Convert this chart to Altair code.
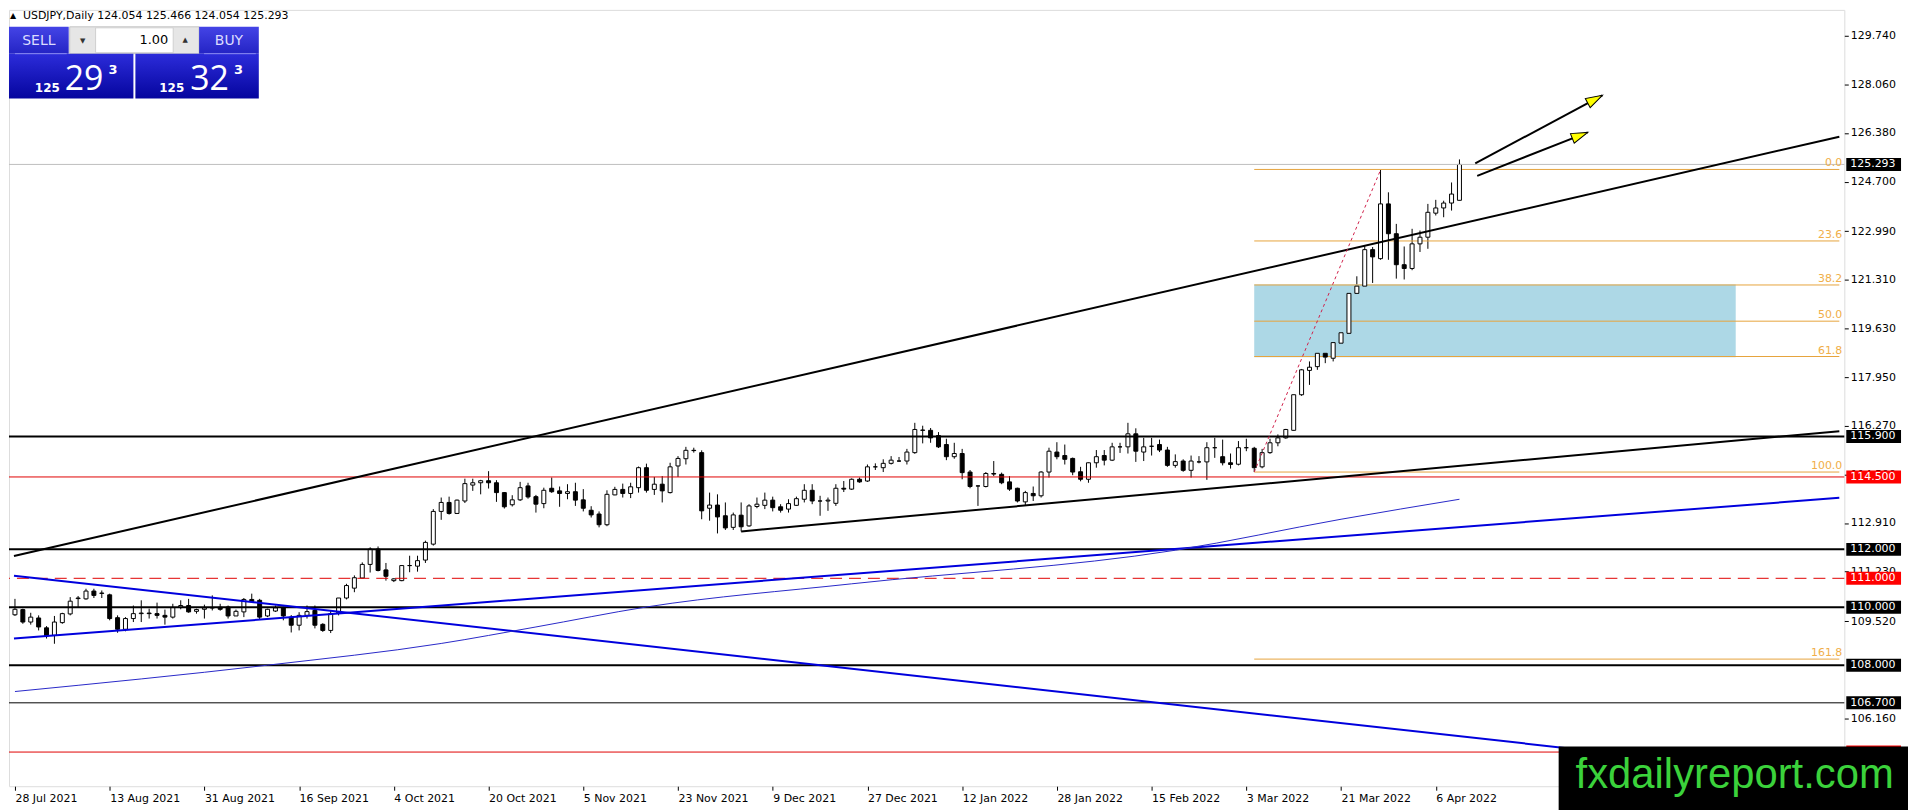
import math
import json
import altair as alt
import pandas as pd

# ---------------- values ----------------
opens = [109.74, 109.92, 109.49, 109.63, 109.29, 109.03, 109.47, 109.77, 110.30, 110.29,
         110.56, 110.49, 110.43, 109.64, 109.24, 109.61, 109.78, 109.80, 109.78, 109.72,
         109.66, 109.99, 110.06, 109.86, 109.93, 109.98, 110.00, 110.01, 109.70, 109.84,
         110.27, 110.24, 109.70, 109.87, 109.98, 109.66, 109.38, 109.72, 109.89, 109.41,
         109.20, 109.81, 110.32, 110.66, 111.01, 111.48, 112.01, 111.29, 110.92, 110.92,
         111.44, 111.42, 111.63, 112.18, 113.31, 113.62, 113.24, 113.67, 114.22, 114.30,
         114.37, 114.30, 113.96, 113.54, 113.71, 114.19, 113.82, 113.58, 114.11, 114.02,
         113.93, 113.99, 113.71, 113.35, 113.22, 112.85, 113.88, 114.07, 113.93, 114.13,
         114.82, 114.07, 114.25, 113.96, 114.88, 115.13, 115.42, 115.34, 113.42, 113.53,
         113.16, 112.76, 113.18, 112.81, 113.48, 113.52, 113.70, 113.47, 113.39, 113.52,
         113.73, 114.04, 113.67, 113.67, 113.59, 114.11, 114.08, 114.42, 114.36, 114.85,
         114.82, 114.97, 115.05, 115.05, 115.34, 116.12, 116.11, 115.93, 115.62, 115.20,
         115.31, 114.67, 114.19, 114.17, 114.62, 114.59, 114.33, 114.11, 113.64, 113.93,
         113.85, 114.67, 115.36, 115.24, 115.14, 114.68, 114.42, 114.99, 115.24, 115.08,
         115.54, 115.54, 115.99, 115.36, 115.56, 115.62, 115.43, 114.90, 115.05, 114.73,
         115.02, 115.02, 115.51, 115.20, 114.99, 114.94, 115.51, 115.49, 114.85, 115.34,
         115.68, 115.85, 116.11, 117.34, 118.18, 118.31, 118.77, 118.60, 119.12, 119.46,
         120.84, 121.09, 122.35, 122.04, 123.93, 122.90, 121.83, 121.70, 122.55, 122.78,
         123.61, 123.79, 123.96, 124.054]
highs = [110.29, 109.95, 109.81, 109.72, 109.35, 109.70, 109.81, 110.35, 110.39, 110.64,
         110.64, 110.58, 110.47, 109.72, 109.66, 110.06, 110.24, 109.95, 110.16, 109.92,
         110.12, 110.24, 110.29, 109.95, 110.09, 110.41, 110.12, 110.06, 109.92, 110.32,
         110.47, 110.29, 109.95, 110.06, 110.02, 109.73, 109.83, 110.06, 110.06, 109.45,
         109.89, 110.32, 110.81, 111.10, 111.55, 112.07, 112.10, 111.53, 111.00, 111.46,
         111.78, 111.78, 112.30, 113.39, 113.79, 113.82, 113.72, 114.44, 114.44, 114.40,
         114.70, 114.39, 113.98, 113.87, 114.33, 114.30, 113.88, 114.13, 114.48, 114.17,
         114.25, 114.30, 114.08, 113.49, 113.31, 114.04, 114.16, 114.27, 114.30, 114.86,
         114.96, 114.50, 114.53, 114.99, 115.22, 115.54, 115.51, 115.42, 113.96, 113.90,
         113.62, 113.27, 113.62, 113.56, 113.79, 113.96, 113.82, 113.56, 113.73, 113.82,
         114.25, 114.25, 113.85, 113.79, 114.25, 114.36, 114.45, 114.48, 114.93, 114.97,
         115.11, 115.22, 115.19, 115.47, 116.37, 116.27, 116.19, 116.05, 115.82, 115.68,
         115.47, 114.74, 114.21, 114.67, 115.05, 114.65, 114.53, 114.13, 114.02, 114.17,
         114.70, 115.51, 115.70, 115.62, 115.17, 114.85, 115.00, 115.43, 115.43, 115.68,
         115.68, 116.37, 116.18, 115.85, 115.85, 115.79, 115.54, 115.28, 115.11, 115.24,
         115.22, 115.70, 115.85, 115.79, 115.31, 115.74, 115.82, 115.54, 115.47, 115.82,
         115.97, 116.16, 117.34, 118.23, 118.49, 119.14, 119.03, 119.44, 119.52, 120.86,
         121.43, 122.50, 122.44, 125.10, 124.33, 123.24, 122.46, 123.07, 123.01, 123.93,
         124.07, 124.04, 124.67, 125.466]
lows = [109.70, 109.43, 109.40, 109.20, 108.92, 108.74, 109.43, 109.72, 109.98, 110.26,
        110.32, 110.32, 109.55, 109.12, 109.17, 109.49, 109.49, 109.61, 109.61, 109.40,
        109.61, 109.93, 109.81, 109.78, 109.61, 109.89, 109.88, 109.61, 109.70, 109.66,
        110.18, 109.58, 109.66, 109.84, 109.55, 109.13, 109.20, 109.61, 109.27, 109.15,
        109.11, 109.72, 110.27, 110.52, 111.00, 111.20, 111.24, 110.92, 110.87, 110.90,
        111.21, 111.23, 111.53, 112.13, 113.02, 113.20, 113.22, 113.60, 114.02, 113.90,
        114.10, 113.64, 113.41, 113.48, 113.67, 113.75, 113.27, 113.42, 113.95, 113.47,
        113.73, 113.50, 113.31, 113.10, 112.76, 112.80, 113.87, 113.79, 113.77, 113.96,
        113.96, 113.88, 113.62, 113.93, 114.50, 114.93, 115.34, 113.04, 112.99, 112.55,
        112.67, 112.67, 112.62, 112.78, 113.42, 113.39, 113.31, 113.27, 113.27, 113.50,
        113.62, 113.56, 113.16, 113.33, 113.50, 113.98, 114.05, 114.30, 114.33, 114.74,
        114.67, 114.93, 115.02, 114.93, 115.30, 115.66, 115.68, 115.50, 115.08, 115.13,
        114.42, 114.11, 113.50, 114.14, 114.53, 114.25, 114.02, 113.62, 113.50, 113.67,
        113.79, 114.48, 115.11, 114.93, 114.56, 114.35, 114.30, 114.82, 114.90, 115.05,
        115.33, 115.31, 115.02, 115.05, 115.24, 115.36, 114.85, 114.82, 114.68, 114.48,
        114.97, 114.40, 115.16, 114.90, 114.79, 114.90, 115.39, 114.67, 114.80, 115.30,
        115.56, 115.82, 116.10, 117.30, 117.68, 118.20, 118.43, 118.49, 119.10, 119.43,
        120.78, 120.97, 121.20, 122.00, 122.00, 121.35, 121.32, 121.64, 122.27, 122.38,
        123.53, 123.47, 123.70, 124.054]
closes = [109.93, 109.49, 109.66, 109.32, 109.01, 109.49, 109.78, 110.21, 110.32, 110.56,
          110.41, 110.48, 109.61, 109.24, 109.61, 109.78, 109.80, 109.78, 109.72, 109.66,
          109.99, 110.06, 109.84, 109.92, 109.98, 109.98, 109.93, 109.70, 109.86, 110.27,
          110.20, 109.66, 109.93, 109.98, 109.70, 109.38, 109.72, 109.85, 109.38, 109.20,
          109.78, 110.32, 110.75, 111.02, 111.48, 112.01, 111.27, 111.07, 110.98, 111.44,
          111.44, 111.61, 112.24, 113.31, 113.62, 113.24, 113.70, 114.27, 114.30, 114.37,
          114.30, 113.96, 113.47, 113.71, 114.13, 113.81, 113.56, 114.04, 113.99, 113.93,
          113.99, 113.70, 113.42, 113.19, 112.85, 113.90, 114.07, 113.93, 114.16, 114.82,
          114.04, 114.25, 114.02, 114.85, 115.14, 115.42, 115.41, 113.33, 113.53, 113.12,
          112.74, 113.19, 112.78, 113.50, 113.56, 113.70, 113.44, 113.35, 113.58, 113.75,
          114.04, 113.67, 113.67, 113.70, 114.11, 114.08, 114.42, 114.33, 114.85, 114.85,
          114.97, 115.08, 115.05, 115.36, 116.14, 116.11, 115.85, 115.54, 115.20, 115.31,
          114.65, 114.17, 114.19, 114.62, 114.60, 114.30, 114.08, 113.67, 113.96, 113.85,
          114.67, 115.39, 115.20, 115.11, 114.67, 114.42, 114.99, 115.20, 115.08, 115.54,
          115.54, 115.99, 115.39, 115.54, 115.56, 115.43, 114.90, 115.03, 114.73, 115.05,
          115.02, 115.51, 115.51, 114.99, 114.93, 115.51, 115.51, 114.82, 115.34, 115.68,
          115.85, 116.14, 117.34, 118.20, 118.29, 118.77, 118.64, 119.14, 119.48, 120.84,
          121.09, 122.35, 122.10, 123.93, 122.90, 121.83, 121.70, 122.55, 122.78, 123.64,
          123.79, 123.96, 124.27, 125.293]
bar_numbers = list(range(len(opens)))

axis_tick_bars = [0, 12, 24, 36, 48, 60, 72, 84, 96, 108, 120, 132, 144, 156, 168, 180]
axis_tick_labels = ["28 Jul 2021", "13 Aug 2021", "31 Aug 2021", "16 Sep 2021", "4 Oct 2021",
                    "20 Oct 2021", "5 Nov 2021", "23 Nov 2021", "9 Dec 2021", "27 Dec 2021",
                    "12 Jan 2022", "28 Jan 2022", "15 Feb 2022", "3 Mar 2022", "21 Mar 2022",
                    "6 Apr 2022"]
price_ticks = [129.74, 128.06, 126.38, 124.70, 122.99, 121.31, 119.63, 117.95, 116.27,
               114.59, 112.91, 111.23, 109.52, 106.16]

thick_black_levels = [115.90, 112.00, 110.00, 108.00]
thin_black_levels = [106.70]
red_levels = [114.50, 105.00]
red_dashed_levels = [111.00]
last_price = 125.293
black_tag_prices = [125.293, 115.90, 112.00, 110.00, 108.00, 106.70]
red_tag_prices = [114.50, 111.00]
hidden_red_tag_prices = [105.00]

fib_names = ["0.0", "23.6", "38.2", "50.0", "61.8", "100.0", "161.8"]
fib_prices = [125.12, 122.65, 121.13, 119.88, 118.66, 114.67, 108.21]
fib_start_bar = 157
fib_anchor_bars = [157, 173]
fib_anchor_prices = [114.67, 125.10]

zone_bars = [157, 218]
zone_prices = [118.63, 121.15]

black_trend_bars = [[-0.125, 231.125], [92, 231.125]]
black_trend_prices = [[111.77, 126.25], [112.62, 116.08]]
blue_trend_bars = [[-0.125, 231.125], [-0.125, 231.125]]
blue_trend_prices = [[108.92, 113.78], [111.09, 104.09]]

ma_bars = [0, 32, 54, 66, 80, 106, 147, 168, 183]
ma_prices = [107.09, 108.00, 108.75, 109.32, 110.01, 110.81, 111.97, 113.04, 113.73]

arrow_start_bars = [185.0, 185.25]
arrow_start_prices = [125.33, 124.90]
arrow_end_bars = [201.1, 199.25]
arrow_end_prices = [127.68, 126.40]

title_text = "USDJPY,Daily  124.054 125.466 124.054 125.293"

# ---------------- layout ----------------
W, H = 1844, 780
X0, X1 = -0.125, 231.125
Y0, Y1 = 103.82, 130.63
FONT = "DejaVu Sans"
FIB = "#E6A33C"
xs = alt.Scale(domain=[X0, X1], nice=False, zero=False)
ys = alt.Scale(domain=[Y0, Y1], nice=False, zero=False)
ppb = W / (X1 - X0)
ppp = H / (Y1 - Y0)

x_axis = alt.Axis(values=axis_tick_bars,
                  labelExpr=f"{json.dumps(axis_tick_labels)}[round(datum.value / 12)]",
                  title=None, grid=False, domain=False, tickSize=4, tickColor="black",
                  labelAlign="left", labelBaseline="top", labelPadding=2,
                  labelFont=FONT, labelFontSize=11, labelColor="black",
                  labelOverlap=False, labelFlush=False)
y_axis = alt.Axis(orient="right", values=price_ticks, format=".3f", title=None,
                  grid=False, domain=False, tickSize=4, tickColor="black",
                  labelPadding=2, labelFont=FONT, labelFontSize=11, labelColor="black",
                  labelOverlap=False, labelFlush=False)


def X(field):
    return alt.X(field, type="quantitative", scale=xs, axis=x_axis)


def Y(field):
    return alt.Y(field, type="quantitative", scale=ys, axis=y_axis)


candles = pd.DataFrame({"bar": bar_numbers, "open": opens, "high": highs,
                        "low": lows, "close": closes})
candles["top"] = candles[["open", "close"]].max(axis=1)
candles["bottom"] = candles[["open", "close"]].min(axis=1)
candles["dir"] = ["up" if c > o else ("down" if c < o else "flat")
                  for o, c in zip(opens, closes)]

wicks = alt.Chart(candles).mark_rule(color="black", strokeWidth=1).encode(
    x=X("bar"), y=Y("low"), y2="high:Q")
bodies = alt.Chart(candles).mark_bar(size=4, stroke="black", strokeWidth=1).encode(
    x=X("bar"), y=Y("bottom"), y2="top:Q",
    fill=alt.Fill("dir:N", scale=alt.Scale(domain=["up", "down", "flat"],
                                           range=["white", "black", "black"]), legend=None))

zone = alt.Chart(pd.DataFrame({"b0": [zone_bars[0]], "b1": [zone_bars[1]],
                               "p0": [zone_prices[0]], "p1": [zone_prices[1]]})
                 ).mark_rect(color="#ADD8E6").encode(x=X("b0"), x2="b1:Q", y=Y("p0"), y2="p1:Q")

fib_df = pd.DataFrame({"name": fib_names, "price": fib_prices,
                       "b0": [fib_start_bar] * len(fib_names), "b1": [X1] * len(fib_names)})
fib_lines = alt.Chart(fib_df).mark_rule(color=FIB, strokeWidth=1).encode(
    x=X("b0"), x2="b1:Q", y=Y("price"))
fib_text = alt.Chart(fib_df).mark_text(align="right", baseline="bottom", dy=-1, font=FONT,
                                       fontSize=11, color="#F0AE48").encode(
    x=alt.value(W - 2), y=Y("price"), text="name:N")
fib_trend = alt.Chart(pd.DataFrame({"bar": fib_anchor_bars, "price": fib_anchor_prices})
                      ).mark_line(color="#D0204A", strokeWidth=1, strokeDash=[3, 3]).encode(
    x=X("bar"), y=Y("price"))


def level_layer(levels, color, width, dash=None):
    kw = {"color": color, "strokeWidth": width}
    if dash:
        kw["strokeDash"] = dash
    return alt.Chart(pd.DataFrame({"price": levels})).mark_rule(**kw).encode(y=Y("price"))


levels = [
    level_layer([last_price], "#BDBDBD", 1),
    level_layer(thick_black_levels, "black", 2),
    level_layer(thin_black_levels, "black", 1),
    level_layer(red_levels, "#E00000", 1),
    level_layer(red_dashed_levels, "#E00000", 1, [12, 7]),
]


def trend_layer(bar_pairs, price_pairs, color, width):
    rows = []
    for i, (bp, pp) in enumerate(zip(bar_pairs, price_pairs)):
        for b, p in zip(bp, pp):
            rows.append({"line": i, "bar": b, "price": p})
    return alt.Chart(pd.DataFrame(rows)).mark_line(color=color, strokeWidth=width, clip=True).encode(
        x=X("bar"), y=Y("price"), detail="line:N")


trends = [
    trend_layer(blue_trend_bars, blue_trend_prices, "#0000DD", 2),
    trend_layer(black_trend_bars, black_trend_prices, "black", 2),
]
ma_line = alt.Chart(pd.DataFrame({"bar": ma_bars, "price": ma_prices})).mark_line(
    color="#2828C8", strokeWidth=1, interpolate="monotone").encode(x=X("bar"), y=Y("price"))

# arrows
shaft_rows, head_rows = [], []
for i, (sb, sp, eb, ep) in enumerate(zip(arrow_start_bars, arrow_start_prices,
                                          arrow_end_bars, arrow_end_prices)):
    shaft_rows += [{"a": i, "bar": sb, "price": sp}, {"a": i, "bar": eb, "price": ep}]
    dx = (eb - sb) * ppb
    dy = -(ep - sp) * ppp
    L = math.hypot(dx, dy)
    back = 9.0
    head_rows.append({"bar": eb - back * dx / L / ppb,
                      "price": ep + back * dy / L / ppp,
                      "angle": math.degrees(math.atan2(dx, -dy))})
shafts = alt.Chart(pd.DataFrame(shaft_rows)).mark_line(color="black", strokeWidth=2).encode(
    x=X("bar"), y=Y("price"), detail="a:N")
heads = alt.Chart(pd.DataFrame(head_rows)).mark_point(
    shape="M0,-1L0.58,0.85L-0.58,0.85Z", filled=True, fill="#FFFF00", stroke="black",
    strokeWidth=1, size=324, opacity=1).encode(
    x=X("bar"), y=Y("price"), angle=alt.Angle("angle:Q", scale=None))

# price tags on the right axis
half = 6.5 / ppp


def tag_layer(prices, bg, with_text=True):
    df = pd.DataFrame({"price": prices})
    df["lo"] = df["price"] - half
    df["hi"] = df["price"] + half
    df["label"] = [f"{p:.3f}" for p in prices]
    box = alt.Chart(df).mark_rect(color=bg).encode(
        x=alt.value(W + 2), x2=alt.value(W + 57), y=Y("lo"), y2="hi:Q")
    if not with_text:
        return [box]
    txt = alt.Chart(df).mark_text(align="left", baseline="middle", font=FONT, fontSize=11,
                                  color="white").encode(
        x=alt.value(W + 6), y=Y("price"), text="label:N")
    return [box, txt]


tags = (tag_layer(black_tag_prices, "black") + tag_layer(red_tag_prices, "#FF0000")
        + tag_layer(hidden_red_tag_prices, "#FF0000", with_text=False))


# ---------------- decorations (pixel placed) ----------------
def px_rect(x, y, x2, y2, fill, stroke=None):
    kw = {"fill": fill}
    if stroke:
        kw["stroke"] = stroke
        kw["strokeWidth"] = 1
    return alt.Chart(pd.DataFrame({"a": [0]})).mark_rect(**kw).encode(
        x=alt.value(x), x2=alt.value(x2), y=alt.value(y), y2=alt.value(y2))


def px_text(text, x, y, size, color, align="left", baseline="middle", font=FONT,
            weight="normal"):
    return alt.Chart(pd.DataFrame({"t": [text]})).mark_text(
        align=align, baseline=baseline, font=font, fontSize=size, color=color,
        fontWeight=weight).encode(x=alt.value(x), y=alt.value(y), text="t:N")


def grad(c1, c2):
    return alt.Gradient(gradient="linear", x1=0, y1=0, x2=0, y2=1,
                        stops=[alt.GradientStop(color=c1, offset=0),
                               alt.GradientStop(color=c2, offset=1)])


btn = grad("#4444E6", "#2424C4")
big = grad("#2C2CDA", "#05059E")
panel = [
    px_rect(0, 17, 60, 44, btn),
    px_rect(61, 17, 191, 44, "#E6E6E6", "#C4C4C4"),
    px_rect(87, 18, 165, 43, "white", "#D0D0D0"),
    px_rect(191, 17, 251, 44, btn),
    px_rect(0, 44, 125, 89, big),
    px_rect(127, 44, 251, 89, big),
    alt.Chart(pd.DataFrame({"a": [0]})).mark_rule(color="#8A8AF2").encode(
        x=alt.value(6), x2=alt.value(58), y=alt.value(44)),
    alt.Chart(pd.DataFrame({"a": [0]})).mark_rule(color="#8A8AF2").encode(
        x=alt.value(196), x2=alt.value(248), y=alt.value(44)),
    px_text("SELL", 30, 31, 14, "#DCDCFF", align="center"),
    px_text("BUY", 221, 31, 14, "#DCDCFF", align="center"),
    px_text("▼", 74, 31, 7, "#333333", align="center"),
    px_text("▲", 177, 30, 7, "#333333", align="center"),
    px_text("1.00", 160, 30, 13, "black", align="right"),
    px_text("125", 26, 82, 12, "white", baseline="alphabetic", weight="bold"),
    px_text("29", 56, 80, 34, "white", baseline="alphabetic", font="Open Sans"),
    px_text("3", 100, 64, 13, "white", baseline="alphabetic", weight="bold"),
    px_text("125", 151, 82, 12, "white", baseline="alphabetic", weight="bold"),
    px_text("32", 182, 80, 34, "white", baseline="alphabetic", font="Open Sans"),
    px_text("3", 226, 64, 13, "white", baseline="alphabetic", weight="bold"),
]
title = [
    px_text("▲", 1, 6, 8, "black"),
    px_text(title_text, 14, 6, 11, "black"),
]
watermark = [
    px_rect(1557, 740, 1908, 804, "black"),
    px_text("fxdailyreport.com", 1574, 782, 42, "#3BD23B", baseline="alphabetic",
            font="Liberation Sans"),
]

layers = ([wicks, zone, fib_lines, bodies] + levels + trends + [ma_line, fib_trend, fib_text]
          + [shafts, heads] + tags + panel + title + watermark)

chart = alt.layer(*layers).properties(width=W, height=H, padding=0).configure_view(
    stroke="black", strokeWidth=1).configure(background="white")

chart.save("out.html", embed_options={"renderer": "svg", "actions": False})
